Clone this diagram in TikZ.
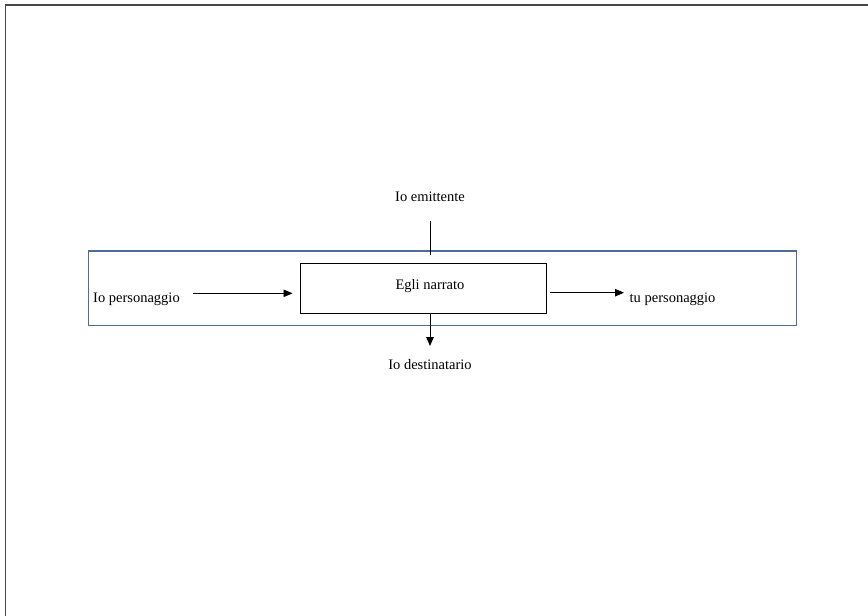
\documentclass[tikz,border=0pt]{standalone}
\usepackage{fontspec}
\setmainfont{Liberation Serif}
\usetikzlibrary{arrows.meta,positioning}
\definecolor{framegray}{HTML}{474747}
\definecolor{bandblue}{HTML}{4F6D94}
\tikzset{
    lbl/.style={font=\fontsize{14.5}{17}\selectfont,inner sep=0pt},
    narbox/.style={draw=black,line width=0.9pt,minimum width=246pt,minimum height=50pt,inner sep=0pt},
    flow/.style={line width=0.9pt,draw=black,-{Triangle[length=9pt,width=7.5pt]}},
    every node/.style={font=\fontsize{14.5}{17}\selectfont}
}
\begin{document}
\begin{tikzpicture}[x=1pt,y=-1pt]
  \useasboundingbox (0,0) rectangle (868,616);

  % cornice
  \draw[framegray,line width=1.4pt] (868,5) -- (5.5,5) -- (5.5,616);

  % fascia
  \draw[bandblue,line width=1.2pt] (88.5,251) rectangle (796.5,325.5);

  % riquadro centrale
  \node[narbox] (narr) at (423.7,288.3) {};
  \node[lbl,anchor=base] (narrtxt) at (430,289) {Egli narrato};

  % etichette
  \node[lbl,anchor=base] (emit) at (430,201) {Io emittente};
  \node[lbl,anchor=base] (dest) at (430,369) {Io destinatario};
  \node[lbl,anchor=base west] (iopers) at (93,302.5) {Io personaggio};
  \node[lbl,anchor=base west] (tupers) at (629.5,302.5) {tu personaggio};

  \coordinate (emtop) at (430,221);
  \coordinate (embot) at (430,255);
  \coordinate (ldst) at (193,293.3);
  \coordinate (ldend) at (292.5,293.3);
  \coordinate (rdst) at (550,292.7);
  \coordinate (rdend) at (624,292.7);
  \coordinate (dtip) at (430,346);

  % connettori
  \draw[line width=0.9pt] (emtop) -- (embot);
  \draw[flow] (ldst) -- (ldend);
  \draw[flow] (rdst) -- (rdend);
  \draw[flow] (narr.south -| dtip) -- (dtip);
\end{tikzpicture}
\end{document}
